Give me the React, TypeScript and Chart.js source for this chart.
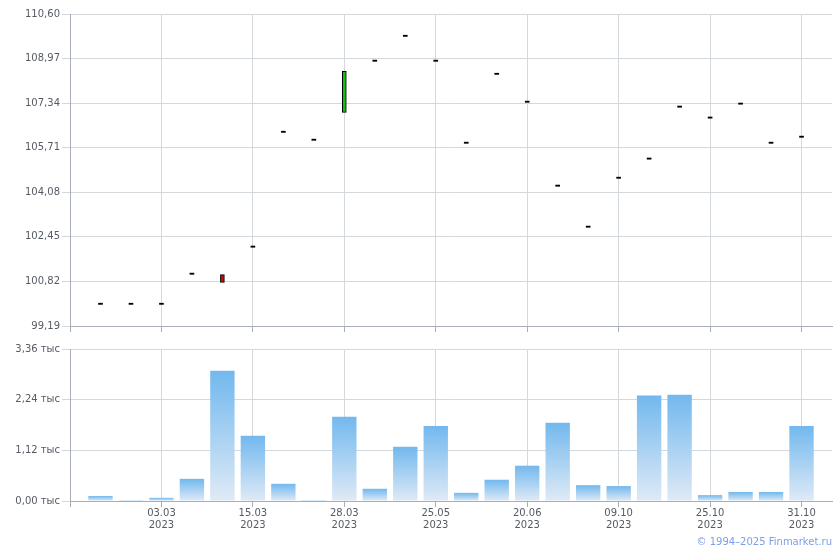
import React, { useEffect, useRef } from "react";
import { Chart, registerables } from "chart.js";

Chart.register(...registerables);

// ---- data ----
const opens = [99.98, 99.98, 99.98, 101.08, 101.07, 102.07, 106.27, 105.98, 107.0, 108.87, 109.78, 108.87, 105.87, 108.39, 107.37, 104.3, 102.8, 104.59, 105.29, 107.19, 106.79, 107.3, 105.87, 106.09];
const closes = [99.98, 99.98, 99.98, 101.08, 100.78, 102.07, 106.27, 105.98, 108.5, 108.87, 109.78, 108.87, 105.87, 108.39, 107.37, 104.3, 102.8, 104.59, 105.29, 107.19, 106.79, 107.3, 105.87, 106.09];
const volumes = [110, 20, 70, 490, 2880, 1440, 380, 20, 1860, 270, 1200, 1660, 180, 470, 780, 1730, 350, 330, 2330, 2350, 130, 200, 200, 1660];
const tickIndexes = [2, 5, 8, 11, 14, 17, 20, 23];
const tickDates = ["03.03", "15.03", "28.03", "25.05", "20.06", "09.10", "25.10", "31.10"];
const tickYear = "2023";
const priceTicks = [99.19, 100.82, 102.45, 104.08, 105.71, 107.34, 108.97, 110.6];
const volumeTicks = [0, 1120, 2240, 3360];

const FONT = { family: "'DejaVu Sans', Verdana, sans-serif", size: 10 };
const TEXT = "#555a63";
const GRID = "#d3d8dd";
const AXIS = "#a9aeb6";

function xScaleBase(showLabels: boolean, height: number) {
  return {
    type: "linear" as const,
    min: -1,
    max: 24,
    offset: false,
    afterBuildTicks: (s: any) => {
      s.ticks = [-1, ...tickIndexes].map((v) => ({ value: v }));
    },
    afterFit: (s: any) => {
      s.height = height;
    },
    ticks: {
      display: showLabels,
      autoSkip: false,
      maxRotation: 0,
      padding: 0,
      font: { ...FONT, lineHeight: 1.2 },
      color: TEXT,
      callback: (v: any) => {
        const k = tickIndexes.indexOf(Number(v));
        return k >= 0 ? [tickDates[k], tickYear] : "";
      },
    },
    grid: { color: GRID, tickLength: 6, tickColor: AXIS, lineWidth: 1, offset: false },
    border: { color: AXIS, width: 1 },
  };
}

export default function App() {
  const topRef = useRef<HTMLCanvasElement | null>(null);
  const botRef = useRef<HTMLCanvasElement | null>(null);

  useEffect(() => {
    const top = new Chart(topRef.current!, {
      type: "bar",
      data: {
        datasets: [
          {
            data: opens.map((o, i) => ({ x: i, y: [o, closes[i]] })) as any,
            backgroundColor: opens.map((o, i) =>
              closes[i] > o ? "#12c012" : closes[i] < o ? "#d40000" : "#000000"
            ),
            borderColor: "#000000",
            borderWidth: opens.map((o, i) => (closes[i] === o ? 0 : 1)),
            borderSkipped: false,
            barThickness: 4,
            minBarLength: 1.2,
          } as any,
        ],
      },
      options: {
        animation: false,
        responsive: false,
        maintainAspectRatio: false,
        layout: { padding: { top: 14, right: 8, left: 0, bottom: 0 } },
        plugins: { legend: { display: false }, tooltip: { enabled: false } },
        scales: {
          x: xScaleBase(false, 14) as any,
          y: {
            min: 99.19,
            max: 110.6,
            afterBuildTicks: (s: any) => {
              s.ticks = priceTicks.map((v) => ({ value: v }));
            },
            afterFit: (s: any) => {
              s.width = 70;
            },
            ticks: {
              padding: 2,
              font: FONT,
              color: TEXT,
              callback: (v: any) => Number(v).toFixed(2).replace(".", ","),
            },
            grid: { color: GRID, tickLength: 8 },
            border: { color: AXIS },
          },
        },
      },
    });

    const bot = new Chart(botRef.current!, {
      type: "bar",
      data: {
        datasets: [
          {
            data: volumes.map((v, i) => ({ x: i, y: v })) as any,
            backgroundColor: (ctx: any) => {
              const chart = ctx.chart;
              const ys = chart.scales?.y;
              if (!ys || !ctx.parsed) return "#8cc4f0";
              const yTop = ys.getPixelForValue(ctx.parsed.y);
              const yBase = ys.getPixelForValue(0);
              if (!isFinite(yTop) || !isFinite(yBase) || yBase - yTop < 0.5) return "#b8d8f4";
              const g = chart.ctx.createLinearGradient(0, yTop, 0, yBase);
              g.addColorStop(0, "#72b8ee");
              g.addColorStop(1, "#dfeaf6");
              return g;
            },
            borderWidth: 0,
            barPercentage: 0.8,
            categoryPercentage: 1,
          } as any,
        ],
      },
      options: {
        animation: false,
        responsive: false,
        maintainAspectRatio: false,
        layout: { padding: { top: 9, right: 8, left: 0, bottom: 0 } },
        plugins: { legend: { display: false }, tooltip: { enabled: false } },
        scales: {
          x: xScaleBase(true, 49) as any,
          y: {
            min: 0,
            max: 3360,
            afterBuildTicks: (s: any) => {
              s.ticks = volumeTicks.map((v) => ({ value: v }));
            },
            afterFit: (s: any) => {
              s.width = 70;
            },
            ticks: {
              padding: 2,
              font: FONT,
              color: TEXT,
              callback: (v: any) => (Number(v) / 1000).toFixed(2).replace(".", ",") + " тыс",
            },
            grid: { color: GRID, tickLength: 8 },
            border: { color: AXIS },
          },
        },
      },
    });

    return () => {
      top.destroy();
      bot.destroy();
    };
  }, []);

  return (
    <div style={{ position: "absolute", left: 0, top: 0, width: 840, height: 550, background: "#fff", overflow: "hidden" }}>
      <canvas ref={topRef} width={840} height={340} style={{ position: "absolute", left: 0, top: 0, width: 840, height: 340 }} />
      <canvas ref={botRef} width={840} height={210} style={{ position: "absolute", left: 0, top: 340, width: 840, height: 210 }} />
      <div
        style={{
          position: "absolute",
          right: 8,
          top: 536,
          font: "10px 'DejaVu Sans', Verdana, sans-serif",
          color: "#7b9fe8",
          whiteSpace: "nowrap",
          lineHeight: "12px",
        }}
      >
        © 1994–2025 Finmarket.ru
      </div>
    </div>
  );
}
